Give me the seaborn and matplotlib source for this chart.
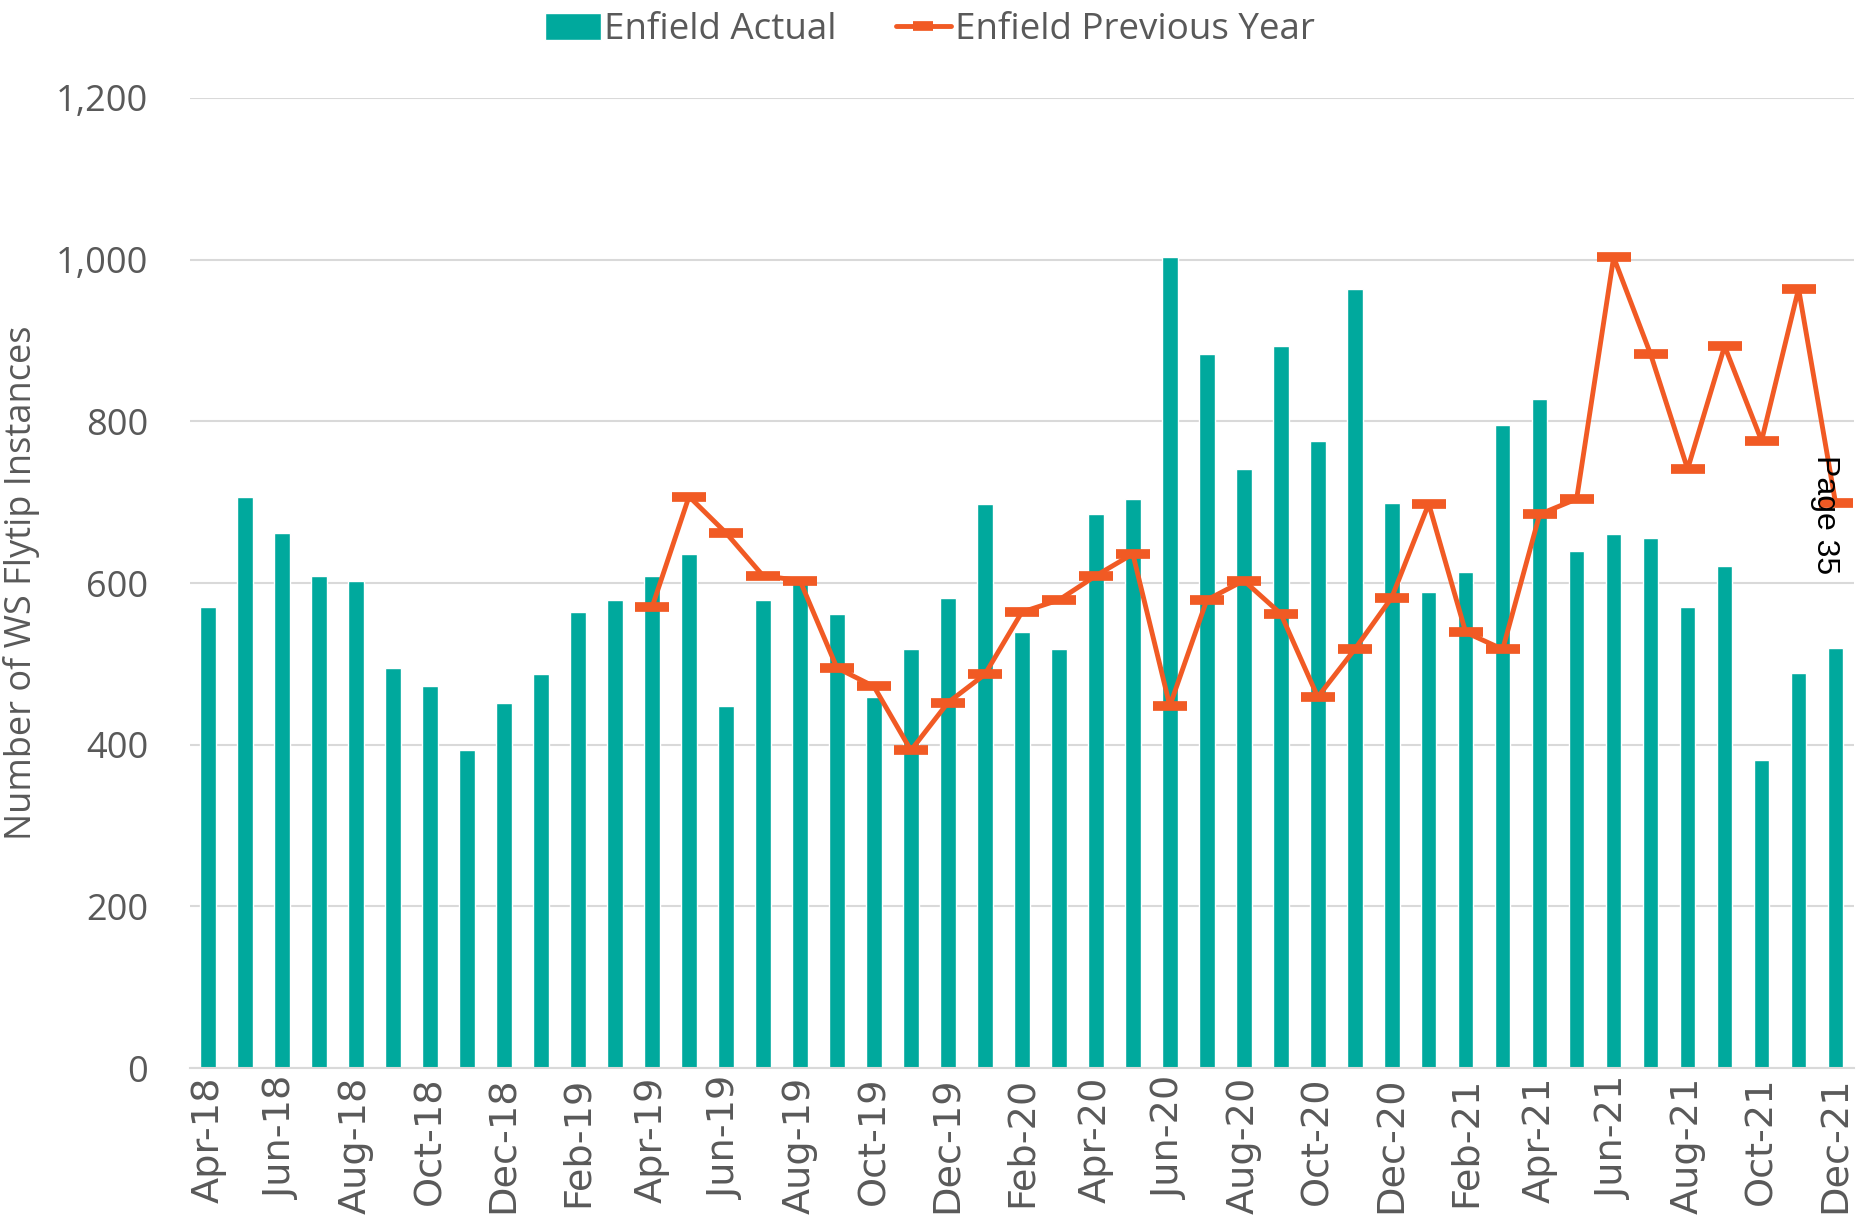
import numpy as np
import pandas as pd
import seaborn as sns
import matplotlib.pyplot as plt
from matplotlib.ticker import FuncFormatter

# monthly fly-tip counts, Apr-18 .. Dec-21
months = ['Apr-18', 'May-18', 'Jun-18', 'Jul-18', 'Aug-18', 'Sep-18', 'Oct-18', 'Nov-18', 'Dec-18',
          'Jan-19', 'Feb-19', 'Mar-19', 'Apr-19', 'May-19', 'Jun-19', 'Jul-19', 'Aug-19', 'Sep-19',
          'Oct-19', 'Nov-19', 'Dec-19', 'Jan-20', 'Feb-20', 'Mar-20', 'Apr-20', 'May-20', 'Jun-20',
          'Jul-20', 'Aug-20', 'Sep-20', 'Oct-20', 'Nov-20', 'Dec-20', 'Jan-21', 'Feb-21', 'Mar-21',
          'Apr-21', 'May-21', 'Jun-21', 'Jul-21', 'Aug-21', 'Sep-21', 'Oct-21', 'Nov-21', 'Dec-21']

actual = [570, 707, 662, 609, 603, 495, 472, 393, 452, 487, 564, 579,
          609, 636, 448, 579, 603, 562, 459, 518, 582, 698, 539, 518,
          685, 704, 1003, 883, 741, 893, 776, 964, 699, 589, 613, 795,
          828, 640, 661, 656, 570, 621, 381, 489, 519]

# previous-year line only runs from Apr-19
prev_months = months[12:]
prev_year = [570, 707, 662, 609, 603, 495, 472, 393, 452, 487, 564, 579,
             609, 636, 448, 579, 603, 562, 459, 518, 582, 698, 539, 518,
             685, 704, 1003, 883, 741, 893, 776, 964, 699]

label_months = months[::2]

TEAL = '#00A99D'
ORANGE = '#F15A24'
GREY = '#595959'
GRID = '#D9D9D9'

sns.set_style('white')
plt.rcParams['font.family'] = ['Open Sans', 'DejaVu Sans']

fig = plt.figure(figsize=(18.6, 12.17), dpi=100)
ax = fig.add_axes([0.102, 0.1224, 0.8948, 0.7971])

df = pd.DataFrame({'month': months, 'actual': actual})
sns.barplot(data=df, x='month', y='actual', order=months, color=TEAL, saturation=1,
            width=0.42, label='Enfield Actual', ax=ax, zorder=2)

prev_df = pd.DataFrame({'pos': [months.index(m) for m in prev_months], 'value': prev_year})
sns.lineplot(data=prev_df, x='pos', y='value', color=ORANGE, lw=3.5, marker='_',
             markersize=25, markeredgewidth=7, markeredgecolor=ORANGE,
             label='Enfield Previous Year', ax=ax, zorder=3, estimator=None, sort=False)

ax.set_xlim(-0.5, len(months) - 0.5)
ax.set_ylim(0, 1200)
ax.set_yticks(range(0, 1201, 200))
ax.yaxis.set_major_formatter(FuncFormatter(lambda v, p: f'{v:,.0f}'))
ax.yaxis.grid(True, color=GRID, lw=1.5, zorder=0)
ax.set_axisbelow(True)

ax.set_xticks([months.index(m) for m in label_months])
ax.set_xticklabels(label_months, rotation=90, fontsize=27.5, color=GREY, family='DejaVu Sans')
ax.set_xticks(np.arange(-0.5, len(months) - 0.5, 2), minor=True)
ax.tick_params(axis='x', which='major', length=0, pad=6)
ax.tick_params(axis='x', which='minor', length=9, width=1.5, color=GRID)
ax.tick_params(axis='y', length=0, pad=30, labelsize=26, labelcolor=GREY)

for s in ['left', 'top', 'right']:
    ax.spines[s].set_visible(False)
ax.spines['bottom'].set_color(GRID)
ax.spines['bottom'].set_linewidth(1.5)

ax.set_xlabel('')
ax.set_ylabel('Number of WS Flytip Instances', fontsize=26, color=GREY)
ax.yaxis.set_label_coords(-0.09, 0.5)

handles, labels = ax.get_legend_handles_labels()
order = [labels.index('Enfield Actual'), labels.index('Enfield Previous Year')]
ax.get_legend().remove()
fig.legend([handles[i] for i in order], [labels[i] for i in order], loc='center',
           bbox_to_anchor=(0.5, 0.975), ncol=2, frameon=False,
           fontsize=26.5, labelcolor=GREY, handlelength=1.5, handleheight=0.75,
           handletextpad=0.1, columnspacing=1.6, markerscale=0.6)

fig.text(0.981, 0.577, 'Page 35', rotation=270, ha='center', va='center',
         fontsize=23, color='black', family='Liberation Sans')

fig.savefig('out.png', dpi=100)
